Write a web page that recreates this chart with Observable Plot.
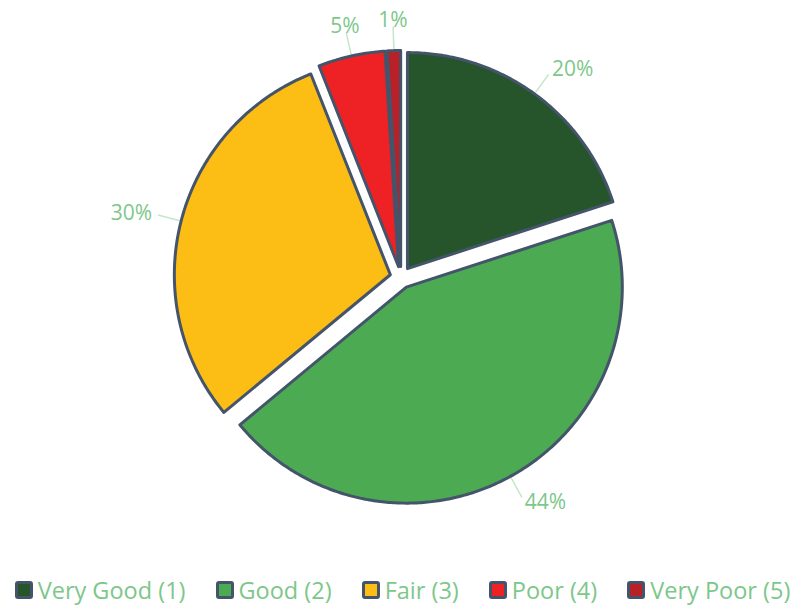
<!DOCTYPE html>
<html><head><meta charset="utf-8">
<script src="https://cdn.jsdelivr.net/npm/d3@7"></script>
<script src="https://cdn.jsdelivr.net/npm/@observablehq/plot@0.6"></script>
<style>
body{margin:0;background:#fff;font-family:"Open Sans",sans-serif;}
#legend{display:flex;justify-content:center;gap:30px;height:32px;align-items:center;color:#7dc78a;font-size:23.5px;white-space:nowrap;}
.item{display:flex;align-items:center;gap:5px}
.sw{width:12px;height:12px;border:3px solid #44546a;border-radius:3px}
</style></head><body><div id="chart"></div><div id="legend"></div>
<script>
const categories = ["Very Good (1)", "Good (2)", "Fair (3)", "Poor (4)", "Very Poor (5)"];
const values = [20, 44, 30, 5, 1];
const colors = ["#27552b", "#4caa52", "#fcbd14", "#ee2125", "#b92027"];

const W = 805, H = 574, CX = 400.5, CY = 277;
const R = 216, OFF = 11, LEAD = 24, LABR = R + OFF + 30;

const rows = categories.map((name, i) => ({name, value: values[i], color: colors[i]}));
const total = d3.sum(values);
const arcs = d3.pie().sort(null).value(d => d.value)(rows);

const pts = [];
const labels = [];
for (const a of arcs) {
  const mid = (a.startAngle + a.endAngle) / 2;
  const ox = OFF * Math.sin(mid), oy = OFF * Math.cos(mid);
  pts.push({name: a.data.name, color: a.data.color, x: ox, y: oy});
  const n = Math.max(2, Math.ceil((a.endAngle - a.startAngle) / 0.01));
  for (let i = 0; i <= n; i++) {
    const t = a.startAngle + (a.endAngle - a.startAngle) * i / n;
    pts.push({name: a.data.name, color: a.data.color, x: ox + R * Math.sin(t), y: oy + R * Math.cos(t)});
  }
  const s = Math.sin(mid), c = Math.cos(mid);
  labels.push({
    text: Math.round(a.data.value / total * 100) + "%",
    side: s > 0.3 ? "right" : s < -0.3 ? "left" : "top",
    x1: (R + OFF) * s, y1: (R + OFF) * c,
    x2: (R + OFF + LEAD) * s, y2: (R + OFF + LEAD) * c,
    lx: LABR * s, ly: LABR * c
  });
}

const txt = {fill: "#7dc78a", fontSize: 21, fontFamily: "Open Sans"};
const chart = Plot.plot({
  width: W, height: H, margin: 0,
  x: {domain: [-CX, W - CX], axis: null},
  y: {domain: [-(H - CY), CY], axis: null},
  color: {type: "identity"},
  marks: [
    Plot.link(labels, {x1: "x1", y1: "y1", x2: "x2", y2: "y2", stroke: "#c5e6c9", strokeWidth: 1.5}),
    Plot.line(pts, {x: "x", y: "y", z: "name", fill: "color", stroke: "#44546a", strokeWidth: 3, curve: "linear-closed", strokeLinejoin: "round"}),
    Plot.text(labels.filter(d => d.side === "right"), {x: "lx", y: "ly", text: "text", textAnchor: "start", ...txt}),
    Plot.text(labels.filter(d => d.side === "left"), {x: "lx", y: "ly", text: "text", textAnchor: "end", ...txt}),
    Plot.text(labels.filter(d => d.side === "top"), {x: "lx", y: "ly", text: "text", textAnchor: "middle", ...txt})
  ]
});
document.getElementById("chart").append(chart);

const leg = document.getElementById("legend");
rows.forEach(r => {
  const it = document.createElement("div");
  it.className = "item";
  const sw = document.createElement("span");
  sw.className = "sw";
  sw.style.background = r.color;
  const lb = document.createElement("span");
  lb.textContent = r.name;
  it.append(sw, lb);
  leg.append(it);
});
</script></body></html>
